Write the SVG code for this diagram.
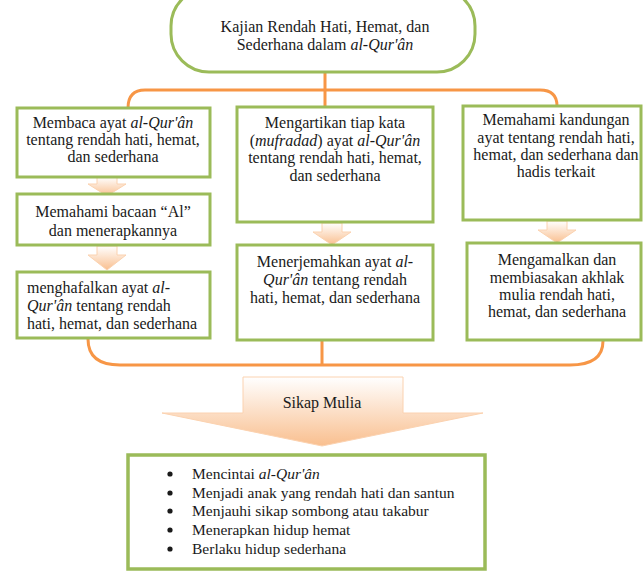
<svg xmlns="http://www.w3.org/2000/svg" width="643" height="572" viewBox="0 0 643 572" font-family="'Liberation Serif', 'Times New Roman', 'DejaVu Serif', serif">
<defs>
<linearGradient id="ag" x1="0" y1="0" x2="0" y2="1">
<stop offset="0" stop-color="#ffffff"/>
<stop offset="1" stop-color="#f9bf8f"/>
</linearGradient>
<style>
.box{fill:#fff;stroke:#9bbb59;stroke-width:3}
.con{fill:none;stroke:#f79646;stroke-width:3}
.arr{fill:url(#ag);stroke:#fbd2b0;stroke-width:1}
text{font-family:'Liberation Serif','Times New Roman','DejaVu Serif',serif;font-size:16px;fill:#1a1a1a}
.c{text-anchor:middle}
.i{font-style:italic}
.l{font-size:15.5px}
</style>
</defs>
<rect width="643" height="572" fill="#fff"/>
<g id="connectors">
<path class="con" d="M325 72 V90 M145 90 H540 Q557 90 557 106 M145 90 Q128 90 128 108 M325 90 V107"/>
<path class="con" d="M88 339 Q88 365 120 365 H570 Q603 365 603 341 M322 340 V365"/>
<path class="arr" d="M97 177 H117 V184 H126 L107 196 L88 184 H97 Z"/>
<path class="arr" d="M97 246 H117 V255 H126 L107 270 L88 255 H97 Z"/>
<path class="arr" d="M322 223 H342 V232 H351 L332 245 L313 232 H322 Z"/>
<path class="arr" d="M547 221 H567 V230 H576 L557 243 L538 230 H547 Z"/>
</g>
<g id="top">
<rect x="171" y="-12" width="304" height="84" rx="38" fill="#fff" stroke="#9bbb59" stroke-width="3"/>
<text x="325" y="32" class="c" font-size="17.5">Kajian Rendah Hati, Hemat, dan</text>
<text x="325" y="50" class="c" font-size="17.5">Sederhana dalam <tspan class="i">al-Qur'ân</tspan></text>
</g>
<g id="n1">
<rect class="box" x="17" y="108" width="193" height="69"/>
<text x="113" y="128" class="c">Membaca ayat <tspan class="i">al-Qur'ân</tspan></text>
<text x="113" y="145" class="c">tentang rendah hati, hemat,</text>
<text x="113" y="162" class="c">dan sederhana</text>
</g>
<g id="n2">
<rect class="box" x="17" y="194" width="193" height="51"/>
<text x="113" y="217" class="c">Memahami bacaan “Al”</text>
<text x="113" y="236" class="c">dan menerapkannya</text>
</g>
<g id="n3">
<rect class="box" x="17" y="272" width="193" height="66"/>
<text x="27" y="293">menghafalkan ayat <tspan class="i">al-</tspan></text>
<text x="27" y="311"><tspan class="i">Qur'ân</tspan> tentang rendah</text>
<text x="27" y="329">hati, hemat, dan sederhana</text>
</g>
<g id="n4">
<rect class="box" x="237" y="107" width="196" height="115"/>
<text x="335" y="128" class="c">Mengartikan tiap kata</text>
<text x="335" y="146" class="c">(<tspan class="i">mufradad</tspan>) ayat <tspan class="i">al-Qur'ân</tspan></text>
<text x="335" y="163" class="c">tentang rendah hati, hemat,</text>
<text x="335" y="181" class="c">dan sederhana</text>
</g>
<g id="n5">
<rect class="box" x="237" y="245" width="196" height="95"/>
<text x="335" y="267" class="c">Menerjemahkan ayat <tspan class="i">al-</tspan></text>
<text x="335" y="285" class="c"><tspan class="i">Qur'ân</tspan> tentang rendah</text>
<text x="335" y="303" class="c">hati, hemat, dan sederhana</text>
</g>
<g id="n6">
<rect class="box" x="463" y="106" width="178" height="114"/>
<text x="556" y="125" class="c">Memahami kandungan</text>
<text x="556" y="143" class="c">ayat tentang rendah hati,</text>
<text x="556" y="160" class="c">hemat, dan sederhana dan</text>
<text x="556" y="177" class="c">hadis terkait</text>
</g>
<g id="n7">
<rect class="box" x="467" y="243" width="174" height="97"/>
<text x="557" y="265" class="c">Mengamalkan dan</text>
<text x="557" y="283" class="c">membiasakan akhlak</text>
<text x="557" y="300" class="c">mulia rendah hati,</text>
<text x="557" y="317" class="c">hemat, dan sederhana</text>
</g>
<g id="sikap">
<path class="arr" d="M243 377 H403 V413 H483 L322 446 L162 413 H243 Z"/>
<text x="322" y="408" class="c" font-size="15">Sikap Mulia</text>
</g>
<g id="result">
<rect x="128" y="455" width="357" height="114" fill="#fff" stroke="#9bbb59" stroke-width="3.5"/>
<g fill="#1a1a1a">
<circle cx="170" cy="474" r="2.6"/>
<circle cx="170" cy="493" r="2.6"/>
<circle cx="170" cy="511" r="2.6"/>
<circle cx="170" cy="530" r="2.6"/>
<circle cx="170" cy="549" r="2.6"/>
</g>
<text class="l" x="192" y="479">Mencintai <tspan class="i">al-Qur'ân</tspan></text>
<text class="l" x="192" y="498">Menjadi anak yang rendah hati dan santun</text>
<text class="l" x="192" y="516">Menjauhi sikap sombong atau takabur</text>
<text class="l" x="192" y="535">Menerapkan hidup hemat</text>
<text class="l" x="192" y="554">Berlaku hidup sederhana</text>
</g>
</svg>
